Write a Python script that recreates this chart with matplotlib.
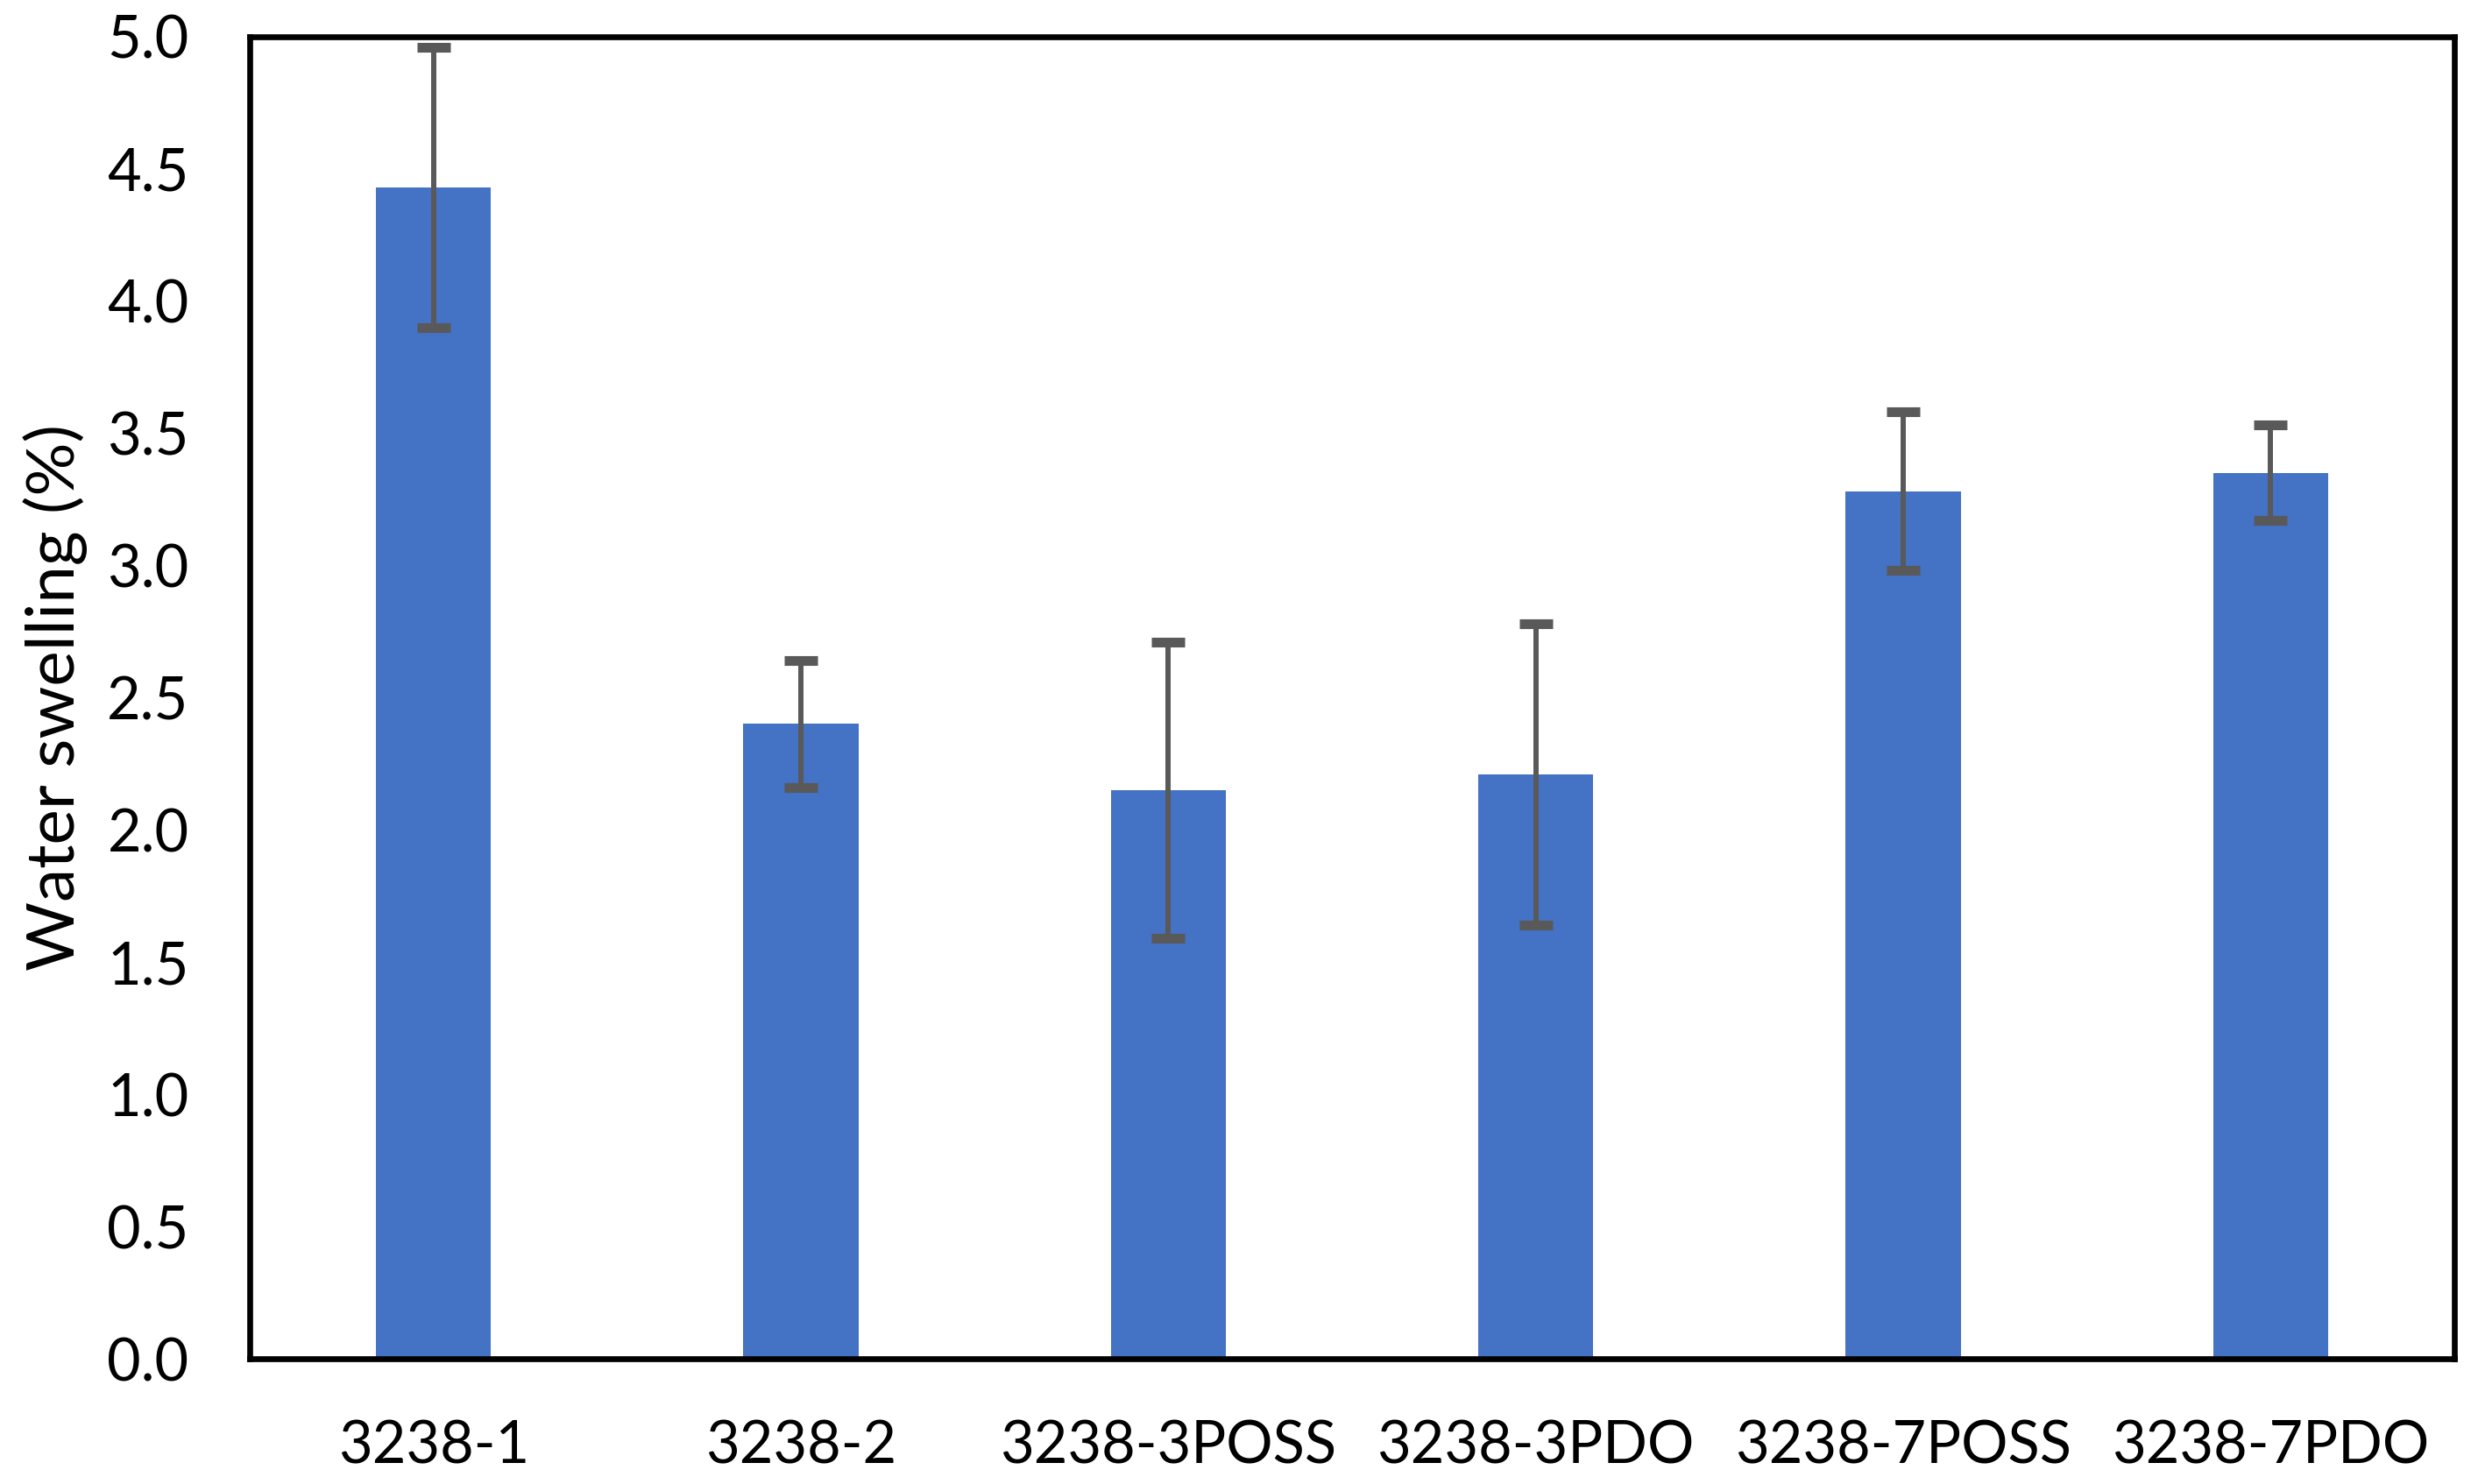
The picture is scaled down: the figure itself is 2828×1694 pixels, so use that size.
import matplotlib
matplotlib.use("Agg")
import matplotlib.pyplot as plt

# Values
samples = ["3238-1", "3238-2", "3238-3POSS", "3238-3PDO", "3238-7POSS", "3238-7PDO"]
swelling = [4.43, 2.40, 2.15, 2.21, 3.28, 3.35]
swelling_err = [0.53, 0.24, 0.56, 0.57, 0.30, 0.18]
y_ticks = [0.0, 0.5, 1.0, 1.5, 2.0, 2.5, 3.0, 3.5, 4.0, 4.5, 5.0]

plt.rcParams["font.family"] = ["Lato", "DejaVu Sans"]

fig = plt.figure(figsize=(28.28, 16.94), dpi=100)
ax = fig.add_axes([0.1008, 0.0844, 0.8896, 0.8911])

x = range(len(samples))
ax.bar(x, swelling, width=0.313, color="#4472C4", zorder=2)
ax.errorbar(x, swelling, yerr=swelling_err, fmt="none", ecolor="#595959",
            elinewidth=4.3, capsize=14, capthick=8, zorder=3)

ax.set_xlim(-0.5, len(samples) - 0.5)
ax.set_ylim(0, 5.0)
ax.set_yticks(y_ticks)
ax.set_yticklabels([f"{v:.1f}" for v in y_ticks])
ax.set_xticks(list(x))
ax.set_xticklabels(samples)
ax.tick_params(axis="both", length=0, labelsize=48, colors="black")
ax.tick_params(axis="x", pad=50)
ax.tick_params(axis="y", pad=50)
ax.set_ylabel("Water swelling (%)", fontsize=55, labelpad=16)

for s in ax.spines.values():
    s.set_linewidth(4.8)
    s.set_color("black")

fig.savefig("out.png", dpi=100)
